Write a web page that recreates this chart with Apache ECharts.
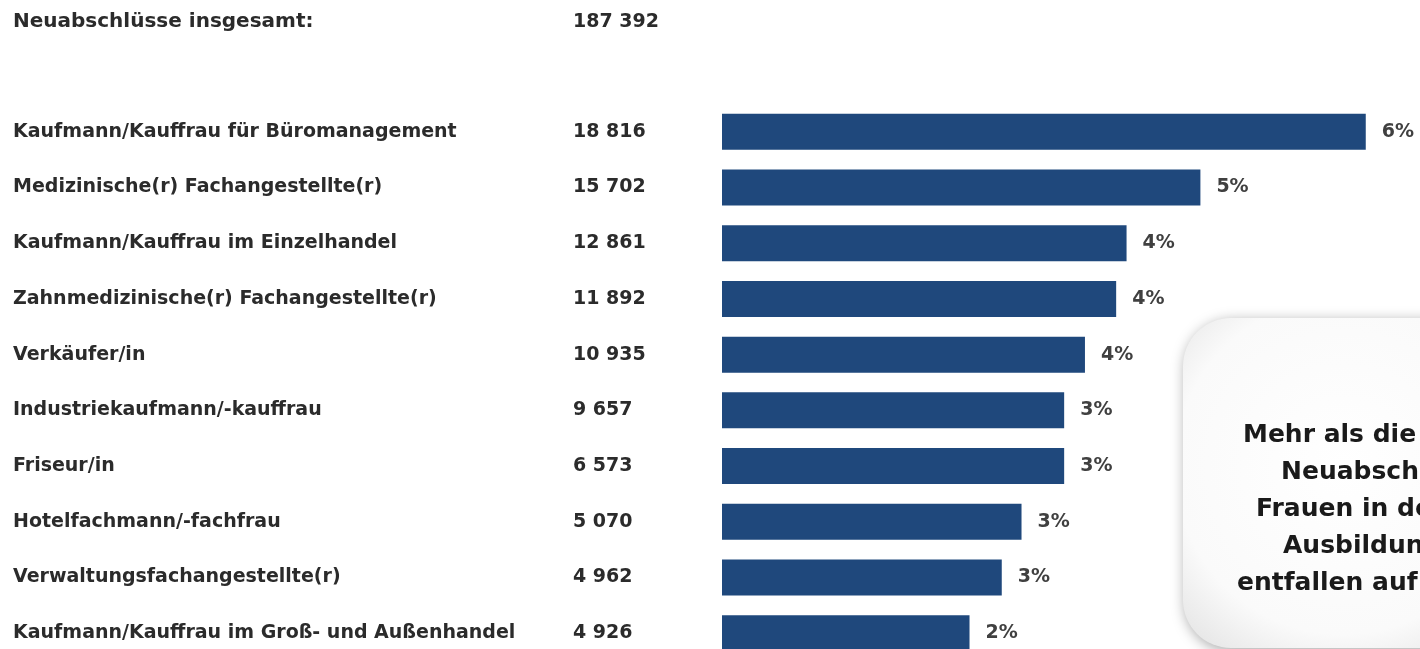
<!DOCTYPE html>
<html>

<head>
    <meta charset="utf-8">
    <script src="https://cdn.jsdelivr.net/npm/echarts@6/dist/echarts.min.js"></script>
    <style>
        html, body { margin: 0; padding: 0; background: #fff; }
    </style>
</head>

<body>
    <div id="main" style="width:1420px;height:649px;"></div>

    <script>
        // Daten
        var totalLabel = 'Neuabschlüsse insgesamt:';
        var totalNew = 187392;
        var professions = [
            'Kaufmann/Kauffrau für Büromanagement',
            'Medizinische(r) Fachangestellte(r)',
            'Kaufmann/Kauffrau im Einzelhandel',
            'Zahnmedizinische(r) Fachangestellte(r)',
            'Verkäufer/in',
            'Industriekaufmann/-kauffrau',
            'Friseur/in',
            'Hotelfachmann/-fachfrau',
            'Verwaltungsfachangestellte(r)',
            'Kaufmann/Kauffrau im Groß- und Außenhandel'
        ];
        var newContracts = [18816, 15702, 12861, 11892, 10935, 9657, 6573, 5070, 4962, 4926];
        // Balkenlänge (Anteil in %, aus dem Bild geschätzt)
        var barShare = [6.19, 4.6, 3.89, 3.79, 3.49, 3.29, 3.29, 2.88, 2.69, 2.38];
        var shareLabels = ['6%', '5%', '4%', '4%', '4%', '3%', '3%', '3%', '3%', '2%'];
        var noteLines = ['Mehr als die Hälfte', 'Neuabschlüsse von', 'Frauen in der dualen', 'Ausbildung', 'entfallen auf'];

        function fmt(n) {
            return String(n).replace(/\B(?=(\d{3})+(?!\d))/g, ' ');
        }

        var FONT = '"DejaVu Sans", sans-serif';
        var TXT = '#2b2b2b';
        var myChart = echarts.init(document.getElementById('main'));

        var noteText = noteLines.map(function (line, i) {
            var xs = [1243, 1281, 1256, 1283, 1237];
            return {
                type: 'text',
                left: xs[i],
                top: 423 + i * 37,
                style: { text: line, font: 'bold 25px "DejaVu Sans"', fill: '#1a1a1a' }
            };
        });

        var option = {
            animation: false,
            textStyle: { fontFamily: FONT },
            title: {
                text: '{a|' + totalLabel + '}{b|' + fmt(totalNew) + '}',
                left: 8,
                top: 7,
                textStyle: {
                    rich: {
                        a: { width: 560, fontSize: 20, fontWeight: 'bold', color: TXT, fontFamily: FONT },
                        b: { fontSize: 19, fontWeight: 'bold', color: TXT, fontFamily: FONT }
                    }
                }
            },
            grid: {
                left: 722,
                top: 104,
                width: 728,
                height: 557,
                containLabel: false,
                outerBoundsMode: 'none'
            },
            xAxis: {
                type: 'value',
                min: 0,
                max: 7,
                show: false
            },
            yAxis: {
                type: 'category',
                inverse: true,
                data: professions,
                axisLine: { show: false },
                axisTick: { show: false },
                splitLine: { show: false },
                axisLabel: {
                    align: 'left',
                    margin: 709,
                    formatter: function (value, index) {
                        return '{n|' + value + '}{v|' + fmt(newContracts[index]) + '}';
                    },
                    rich: {
                        n: { width: 560, fontSize: 19, fontWeight: 'bold', color: TXT, fontFamily: FONT },
                        v: { fontSize: 19, fontWeight: 'bold', color: TXT, fontFamily: FONT }
                    }
                }
            },
            series: [
                {
                    type: 'bar',
                    data: barShare,
                    barWidth: 36,
                    itemStyle: { color: '#1f487c' },
                    label: {
                        show: true,
                        position: 'right',
                        distance: 16,
                        fontSize: 19,
                        fontWeight: 'bold',
                        color: '#404040',
                        fontFamily: FONT,
                        formatter: function (p) { return shareLabels[p.dataIndex]; }
                    }
                }
            ],
            graphic: [
                {
                    type: 'rect',
                    left: 1183,
                    top: 318,
                    shape: { width: 320, height: 330, r: 48 },
                    style: {
                        fill: {
                            type: 'radial', x: 0.5, y: 0.45, r: 0.75,
                            colorStops: [{ offset: 0, color: '#ffffff' }, { offset: 0.7, color: '#fafafa' }, { offset: 1, color: '#e2e2e2' }]
                        },
                        shadowBlur: 14,
                        shadowColor: 'rgba(0,0,0,0.35)',
                        shadowOffsetX: 2,
                        shadowOffsetY: 3
                    }
                }
            ].concat(noteText)
        };

        myChart.setOption(option);
    </script>
</body>

</html>
